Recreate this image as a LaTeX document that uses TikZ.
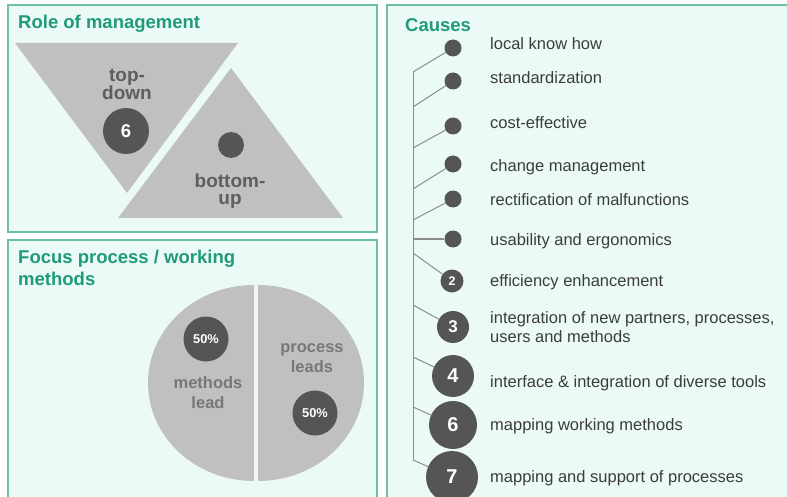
\documentclass[tikz,border=0pt]{standalone}
\usepackage{fontspec}
\setmainfont{Liberation Sans}
\definecolor{panelfill}{HTML}{EBFAF7}
\definecolor{panelline}{HTML}{6CC0A8}
\definecolor{titlecol}{HTML}{1F9A7A}
\definecolor{trigray}{HTML}{C0C0C0}
\definecolor{darkdot}{HTML}{555555}
\definecolor{tritext}{HTML}{5E5E5E}
\definecolor{pietext}{HTML}{777777}
\definecolor{itemtext}{HTML}{3C3C3C}
\definecolor{linegray}{HTML}{8C8C8C}
\tikzset{
  panel/.style={draw=panelline, fill=panelfill, line width=1.3pt},
  ptitle/.style={anchor=base west, inner sep=0, text=titlecol, font=\bfseries\fontsize{18.5}{22}\selectfont, align=left},
  tritxt/.style={anchor=base, inner sep=0, text=tritext, font=\bfseries\fontsize{19}{17.5}\selectfont, align=center},
  pietxt/.style={anchor=base, inner sep=0, text=pietext, font=\bfseries\fontsize{16.5}{20}\selectfont, align=center},
  dotc/.style={circle, fill=darkdot, inner sep=0, minimum size=#1, text=white, font=\bfseries},
  item/.style={anchor=base west, inner sep=0, text=itemtext, font=\fontsize{16.5}{19}\selectfont, align=left},
  branch/.style={draw=linegray, line width=1pt},
}
\begin{document}
\begin{tikzpicture}[x=1pt,y=-1pt]
\useasboundingbox (0,0) rectangle (787,497);
\clip (0,0) rectangle (787,497);
\fill[white] (0,0) rectangle (787,497);
% panels
\draw[panel] (8,5) rectangle (377,232);
\draw[panel] (8,240) rectangle (377,510);
\draw[panel] (387,5) rectangle (800,510);
% titles (base anchor = baseline of last line)
\node[ptitle] (t1) at (18,29) {Role of management};
\node[ptitle] (t2) at (18,285) {Focus process / working\\methods};
\node[ptitle] (t3) at (405,32) {Causes};
% triangles
\fill[trigray] (15,43) -- (238,43) -- (127,193) -- cycle;
\fill[trigray] (231,68) -- (343,218) -- (118,218) -- cycle;
\node[tritxt] (td) at (127,100) {top-\\down};
\node[dotc=46pt, font=\bfseries\fontsize{18.5}{20}\selectfont] (td6) at (126,131) {6};
\node[dotc=26pt] (bud) at (231,145) {};
\node[tritxt] (bu) at (230,205) {bottom-\\up};
% pie
\fill[trigray] (254,285) arc[start angle=-90, end angle=-270, x radius=106, y radius=98] -- cycle;
\fill[trigray] (258,285) arc[start angle=-90, end angle=90, x radius=106, y radius=98] -- cycle;
\node[dotc=45pt, font=\bfseries\fontsize{12.8}{14}\selectfont] (p1) at (206,339) {50\%};
\node[pietxt] (ml) at (208,408) {methods\\lead};
\node[pietxt] (pl) at (312,372) {process\\leads};
\node[dotc=45pt, font=\bfseries\fontsize{12.8}{14}\selectfont] (p2) at (315,413) {50\%};
% causes tree
\coordinate (b1) at (413,72);
\coordinate (b2) at (413,107);
\coordinate (b3) at (413,148);
\coordinate (b4) at (413,189);
\coordinate (b5) at (413,220);
\coordinate (b6) at (413,239);
\coordinate (b7) at (413,253);
\coordinate (b8) at (413,305);
\coordinate (b9) at (413,357);
\coordinate (b10) at (413,407);
\coordinate (b11) at (413,460);
\draw[branch] (b1) -- (b11);
\node[dotc=17pt] (c1) at (453,48) {};
\node[dotc=17pt] (c2) at (453,81) {};
\node[dotc=17pt] (c3) at (453,126) {};
\node[dotc=17pt] (c4) at (453,164) {};
\node[dotc=17pt] (c5) at (453,199) {};
\node[dotc=17pt] (c6) at (453,239) {};
\node[dotc=23pt, font=\bfseries\fontsize{12.5}{14}\selectfont] (c7) at (452,281) {2};
\node[dotc=32pt, font=\bfseries\fontsize{17}{18}\selectfont] (c8) at (453,327) {3};
\node[dotc=42pt, font=\bfseries\fontsize{20}{22}\selectfont] (c9) at (453,376) {4};
\node[dotc=48pt, font=\bfseries\fontsize{20}{22}\selectfont] (c10) at (453,425) {6};
\node[dotc=52pt, font=\bfseries\fontsize{20}{22}\selectfont] (c11) at (452,477) {7};
\foreach \i in {1,...,11} { \draw[branch] (b\i) -- (c\i); }
\node[item] (i1) at (490,50) {local know how};
\node[item] (i2) at (490,84) {standardization};
\node[item] (i3) at (490,129) {cost-effective};
\node[item] (i4) at (490,172) {change management};
\node[item] (i5) at (490,206) {rectification of malfunctions};
\node[item] (i6) at (490,245) {usability and ergonomics};
\node[item] (i7) at (490,286) {efficiency enhancement};
\node[item] (i8) at (490,342) {integration of new partners, processes,\\users and methods};
\node[item] (i9) at (490,387) {interface \& integration of diverse tools};
\node[item] (i10) at (490,430) {mapping working methods};
\node[item] (i11) at (490,482) {mapping and support of processes};
\end{tikzpicture}
\end{document}
